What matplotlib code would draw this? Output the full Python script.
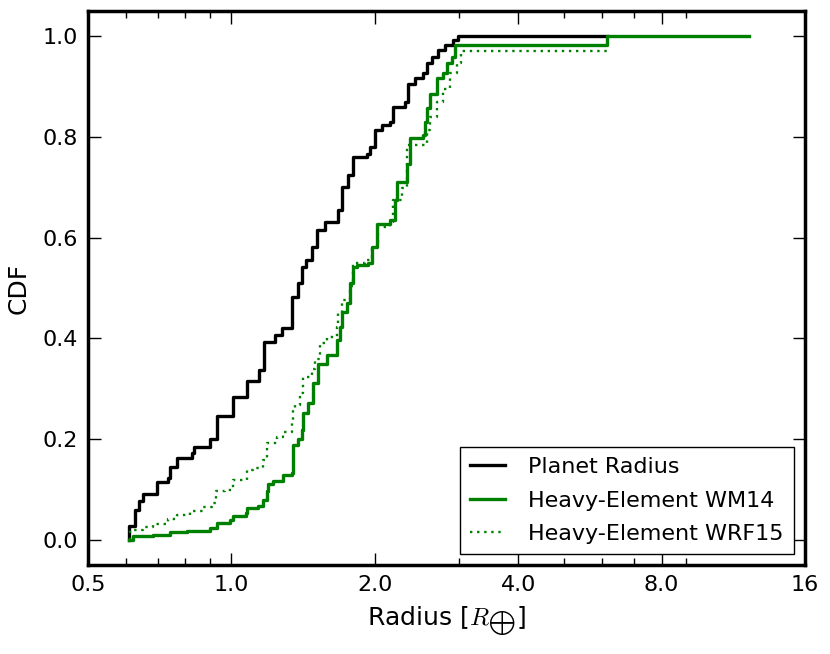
import matplotlib
matplotlib.use("Agg")
import matplotlib.pyplot as plt
from matplotlib.ticker import FixedLocator, NullFormatter

plt.rcParams['font.family'] = ['DejaVu Sans']
plt.rcParams['mathtext.fontset'] = 'cm'

# ---- data: step knots (radius [R_earth], CDF value reached at that radius) ----
planet_r = [0.610, 0.610, 0.628, 0.641, 0.653, 0.697, 0.736, 0.743, 0.768, 0.825,
            0.835, 0.902, 0.931, 1.009, 1.077, 1.144, 1.171, 1.235, 1.275, 1.338,
            1.382, 1.405, 1.434, 1.474, 1.510, 1.572, 1.677, 1.704, 1.760, 1.798,
            1.923, 1.954, 2.002, 2.068, 2.153, 2.187, 2.314, 2.352, 2.429, 2.528,
            2.570, 2.633, 2.719, 2.808, 2.923, 2.990, 6.144]
planet_cdf = [0.000, 0.028, 0.060, 0.078, 0.091, 0.114, 0.122, 0.144, 0.162, 0.172,
              0.185, 0.200, 0.246, 0.283, 0.316, 0.337, 0.393, 0.407, 0.420, 0.483,
              0.509, 0.542, 0.556, 0.582, 0.615, 0.632, 0.655, 0.700, 0.724, 0.760,
              0.767, 0.780, 0.813, 0.823, 0.830, 0.860, 0.870, 0.906, 0.916, 0.926,
              0.946, 0.959, 0.972, 0.982, 0.992, 1.000, 1.000]

wm14_r = [0.610, 0.622, 0.686, 0.743, 0.806, 0.902, 0.931, 0.993, 1.009, 1.073,
          1.077, 1.139, 1.167, 1.186, 1.195, 1.225, 1.285, 1.338, 1.345, 1.382,
          1.405, 1.416, 1.450, 1.486, 1.522, 1.585, 1.664, 1.690, 1.704, 1.746,
          1.774, 1.803, 1.833, 1.938, 1.970, 2.018, 2.153, 2.205, 2.223, 2.333,
          2.371, 2.528, 2.549, 2.570, 2.612, 2.698, 2.785, 2.831, 2.901, 2.947,
          6.144, 12.21]
wm14_cdf = [0.000, 0.007, 0.010, 0.015, 0.018, 0.023, 0.033, 0.040, 0.048, 0.053,
            0.063, 0.067, 0.079, 0.096, 0.111, 0.116, 0.129, 0.132, 0.188, 0.200,
            0.218, 0.251, 0.271, 0.311, 0.350, 0.367, 0.397, 0.423, 0.453, 0.470,
            0.510, 0.542, 0.546, 0.549, 0.582, 0.628, 0.635, 0.675, 0.711, 0.747,
            0.797, 0.804, 0.830, 0.857, 0.886, 0.916, 0.926, 0.946, 0.959, 0.982,
            1.000, 1.000]

wrf15_r = [0.612, 0.612, 0.653, 0.686, 0.737, 0.768, 0.819, 0.873, 0.909, 0.928,
           0.970, 1.009, 1.077, 1.112, 1.167, 1.186, 1.245, 1.285, 1.338, 1.345,
           1.360, 1.393, 1.416, 1.474, 1.498, 1.535, 1.585, 1.664, 1.677, 1.704,
           1.774, 1.803, 1.908, 1.970, 2.034, 2.153, 2.187, 2.278, 2.333, 2.570,
           2.612, 2.698, 2.785, 2.877, 2.971, 3.029, 6.144]
wrf15_cdf = [0.000, 0.020, 0.026, 0.032, 0.041, 0.050, 0.058, 0.065, 0.073, 0.096,
             0.099, 0.119, 0.139, 0.142, 0.159, 0.192, 0.205, 0.215, 0.232, 0.258,
             0.268, 0.291, 0.324, 0.340, 0.360, 0.390, 0.403, 0.423, 0.450, 0.476,
             0.503, 0.549, 0.556, 0.582, 0.622, 0.632, 0.675, 0.698, 0.784, 0.813,
             0.840, 0.870, 0.896, 0.926, 0.946, 0.971, 0.971]

x_major = [0.5, 1.0, 2.0, 4.0, 8.0, 16.0]
x_major_labels = ['0.5', '1.0', '2.0', '4.0', '8.0', '16']
x_minor = [0.6, 0.7, 0.8, 0.9, 3.0, 5.0, 6.0, 7.0, 9.0]
y_ticks = [0.0, 0.2, 0.4, 0.6, 0.8, 1.0]
y_tick_labels = ['0.0', '0.2', '0.4', '0.6', '0.8', '1.0']

fig = plt.figure(figsize=(8.3, 6.54), dpi=100, facecolor='white')
ax = fig.add_axes([88/830, 1-565/654, (805-88)/830, (565-11)/654])

ax.step(planet_r, planet_cdf, where='post', color='black', lw=2.4, label='Planet Radius')
ax.step(wm14_r, wm14_cdf, where='post', color='green', lw=2.4, label='Heavy-Element WM14')
ax.step(wrf15_r, wrf15_cdf, where='post', color='green', lw=1.7, linestyle=(0, (1, 2.0)),
        label='Heavy-Element WRF15')

ax.set_xscale('log', base=2)
ax.set_xlim(0.5, 16)
ax.set_ylim(-0.05, 1.05)
ax.xaxis.set_major_locator(FixedLocator(x_major))
ax.set_xticklabels(x_major_labels)
ax.xaxis.set_minor_locator(FixedLocator(x_minor))
ax.xaxis.set_minor_formatter(NullFormatter())
ax.set_yticks(y_ticks)
ax.set_yticklabels(y_tick_labels)

ax.tick_params(which='both', direction='in', top=True, right=True, labelsize=16, width=1)
ax.tick_params(which='major', length=9, pad=7)
ax.tick_params(which='minor', length=5)
for s in ax.spines.values():
    s.set_linewidth(2.5)

ax.set_xlabel('Radius [$R_{\\bigoplus}$]', fontsize=18, labelpad=7)
ax.set_ylabel('CDF', fontsize=18, labelpad=9)

leg = ax.legend(loc='lower right', fontsize=16, fancybox=False, framealpha=1,
                edgecolor='black', handlelength=1.6, handletextpad=1.05,
                labelspacing=0.6, borderpad=0.45)
leg.get_frame().set_linewidth(1.0)

fig.savefig('out.png', dpi=100, facecolor='white')
